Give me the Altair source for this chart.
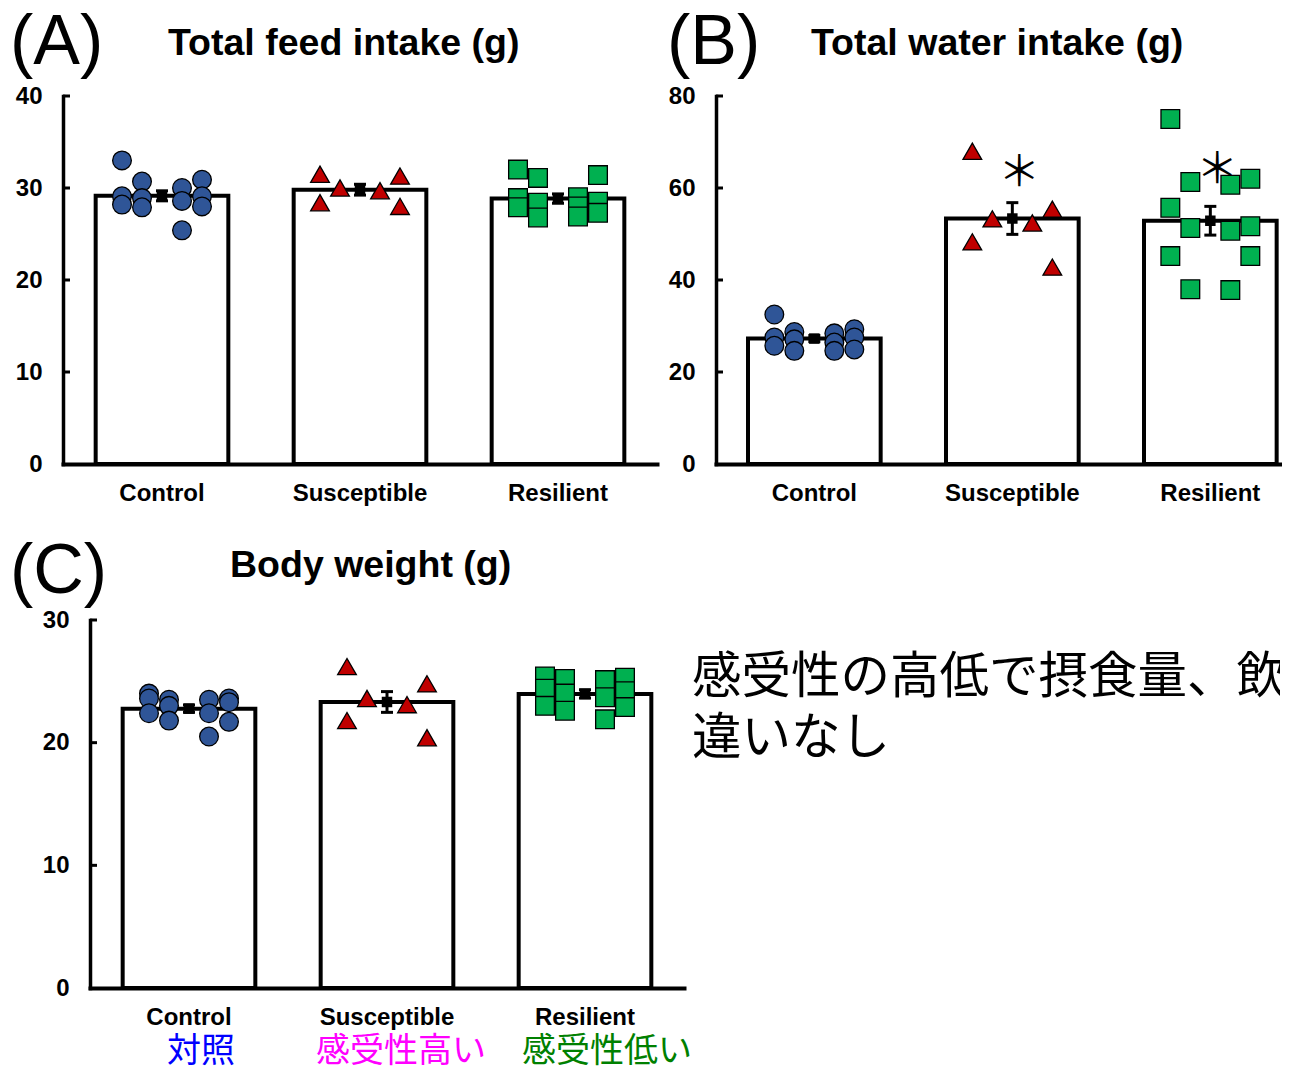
import altair as alt
import pandas as pd

groups = ["Control", "Susceptible", "Resilient"]
jp_labels = ["対照", "感受性高い", "感受性低い"]
jp_colors = ["#0000FF", "#FF00FF", "#008000"]
fills = ["#2F5597", "#C00000", "#00B050"]
shapes = ["circle", "triangle-up", "square"]

# beeswarm column of each animal (-2, -1 left of the mean, 1, 2 right of it)
cols_12 = [-2, -2, -2, -1, -1, -1, 1, 1, 1, 2, 2, 2]
cols_6 = [-2, -2, -1, 1, 2, 2]

feed_control = [33.0, 29.1, 28.2, 30.7, 28.9, 27.9, 30.0, 28.6, 25.4, 30.9, 29.1, 28.0]
feed_susceptible = [31.5, 28.4, 30.0, 29.7, 31.3, 28.0]
feed_resilient = [32.0, 28.9, 27.9, 31.1, 28.4, 26.8, 29.0, 28.0, 26.9, 31.4, 28.5, 27.3]

water_control = [32.5, 27.5, 25.7, 28.7, 27.1, 24.6, 28.4, 26.4, 24.6, 29.3, 27.5, 24.9]
water_susceptible = [68.0, 48.3, 53.3, 52.4, 55.4, 42.8]
water_resilient = [75.0, 55.7, 45.2, 61.3, 51.3, 38.0, 60.7, 50.7, 37.8, 62.0, 51.7, 45.2]

bw_control = [24.0, 23.6, 22.4, 23.5, 23.0, 21.8, 23.5, 22.4, 20.5, 23.6, 23.3, 21.7]
bw_susceptible = [26.2, 21.8, 23.6, 23.1, 24.8, 20.4]
bw_resilient = [25.4, 24.4, 23.0, 25.2, 24.0, 22.6, 25.1, 23.7, 21.9, 25.3, 24.2, 22.9]

star_groups = ["Susceptible", "Resilient"]
star_level = [63.3, 64.0]

note_lines = ["感受性の高低で摂食量、飲水量、体重に", "違いなし"]

LATIN = "Liberation Sans"
CJK = "Noto Sans CJK JP"
PH = 368
STEP = 198.0
COL_STEP = 20.0 / STEP
dummy = pd.DataFrame({"k": [0]})
groups_js = "[" + ",".join("'" + g + "'" for g in groups) + "]"


def make_df(ctrl, sus, res):
    rows = []
    for g, vals, cols in zip(groups, [ctrl, sus, res], [cols_12, cols_6, cols_12]):
        for v, c in zip(vals, cols):
            rows.append({"group": g, "value": v, "col": c})
    return pd.DataFrame(rows)


def panel(df, ymax, ystep, letter, title, width, letter_dx, letter_dy,
          title_dx, title_dy, align=0.5, pad_outer=0.165, stars=False, jp=False):
    xs = alt.Scale(type="band", domain=groups, paddingInner=0.33, paddingOuter=pad_outer,
                   align=align, round=False)
    ys = alt.Scale(domain=[0, ymax], nice=False)
    xaxis = alt.Axis(title=None, labelAngle=0, ticks=False, tickSize=0, domainColor="black",
                     domainWidth=4, domainCap="square", labelFont=LATIN, labelFontSize=24,
                     labelFontWeight="bold", labelColor="black", labelPadding=17, grid=False)
    yaxis = alt.Axis(title=None, values=list(range(0, ymax + 1, ystep)), ticks=False, tickSize=0,
                     domainColor="black", domainWidth=3.5, domainCap="square", labelFont=LATIN,
                     labelFontSize=24, labelFontWeight="bold", labelColor="black",
                     labelPadding=21, grid=False)
    X = alt.X("group:N", scale=xs, sort=groups, axis=xaxis)
    Xn = alt.X("group:N", scale=xs, sort=groups, axis=None)
    # left edge of first band is at 0.5 step before its centre
    x0 = -((width - STEP * 2.67) * align + STEP * 0.67 / 2) / STEP
    xdom = [x0, x0 + width / STEP]

    def Y(f):
        return alt.Y(f, scale=ys, axis=yaxis)

    base = alt.Chart(df)
    bars = base.mark_bar(fill="white", stroke="black", strokeWidth=4).encode(
        x=X, y=Y("mean(value):Q"))
    tick_df = pd.DataFrame({"t": list(range(ystep, ymax + 1, ystep))})
    ticks = alt.Chart(tick_df).mark_rule(color="black", strokeWidth=3).encode(
        x=alt.value(0), x2=alt.value(7), y=Y("t:Q"))
    pts = base.transform_calculate(
        xpos="indexof(" + groups_js + ", datum.group) + datum.col * " + repr(COL_STEP)
    ).mark_point(filled=True, stroke="black", strokeWidth=1.3, opacity=1, size=350).encode(
        x=alt.X("xpos:Q", scale=alt.Scale(domain=xdom, nice=False, zero=False), axis=None),
        y=Y("value:Q"),
        fill=alt.Fill("group:N", scale=alt.Scale(domain=groups, range=fills), legend=None),
        shape=alt.Shape("group:N", scale=alt.Scale(domain=groups, range=shapes), legend=None),
    )
    agg = base.transform_aggregate(
        m="mean(value)", s="stderr(value)", groupby=["group"]
    ).transform_calculate(lo="datum.m - datum.s", hi="datum.m + datum.s")
    err = agg.mark_rule(color="black", strokeWidth=3).encode(x=Xn, y=Y("lo:Q"), y2="hi:Q")
    caps = agg.transform_fold(["lo", "hi"], as_=["kk", "vv"]).mark_tick(
        color="black", size=12, thickness=3, opacity=1).encode(x=Xn, y=Y("vv:Q"))
    mean_pt = agg.mark_square(color="black", size=110, opacity=1).encode(x=Xn, y=Y("m:Q"))
    lt = alt.Chart(dummy).mark_text(text=letter, font=LATIN, fontSize=70, align="left",
                                    baseline="alphabetic", color="black").encode(
        x=alt.value(letter_dx), y=alt.value(letter_dy))
    tt = alt.Chart(dummy).mark_text(text=title, font=LATIN, fontSize=37.5, fontWeight="bold",
                                    align="left", baseline="alphabetic", color="black").encode(
        x=alt.value(title_dx), y=alt.value(title_dy))
    layers = [bars, ticks, pts, err, caps, mean_pt, lt, tt]
    if stars:
        sdf = pd.DataFrame({"group": star_groups, "y": star_level})
        layers.append(alt.Chart(sdf).mark_text(text="＊", font=CJK, fontSize=42, dx=7,
                                               baseline="middle", color="black").encode(
            x=Xn, y=Y("y:Q")))
    if jp:
        jp_dx = [12, 14, 22]
        for i in range(3):
            jdf = pd.DataFrame({"group": [groups[i]], "label": [jp_labels[i]]})
            layers.append(alt.Chart(jdf).mark_text(font=CJK, fontSize=34, color=jp_colors[i],
                                                   dx=jp_dx[i], baseline="alphabetic",
                                                   align="center").encode(
                x=Xn, y=alt.value(PH + 74), text="label:N"))
    return alt.layer(*layers).resolve_scale(x="independent").properties(width=width, height=PH)


A = panel(make_df(feed_control, feed_susceptible, feed_resilient), 40, 10, "(A)",
          "Total feed intake (g)", 594, -53, -32, 105, -41)
B = panel(make_df(water_control, water_susceptible, water_resilient), 80, 20, "(B)",
          "Total water intake (g)", 566, -49, -32, 95, -41, align=0.857, pad_outer=0.0943,
          stars=True)
C = panel(make_df(bw_control, bw_susceptible, bw_resilient), 30, 10, "(C)",
          "Body weight (g)", 594, -80, -27, 140, -43, jp=True)

spacer = alt.Chart(dummy).mark_text(text=" ").encode(
    x=alt.value(0), y=alt.value(0)).properties(width=19, height=PH)

note = alt.Chart(dummy).mark_text(text=note_lines, font=CJK, fontSize=49.5, lineHeight=61,
                                  align="left", baseline="alphabetic", clip=True,
                                  color="black").encode(
    x=alt.value(0), y=alt.value(73)).properties(width=588, height=PH)

row1 = alt.hconcat(A, B, spacing=59, bounds="flush")
row2 = alt.hconcat(spacer, C, note, spacing=8, bounds="flush")

chart = alt.vconcat(row1, row2, spacing=524, bounds="flush").properties(
    padding={"left": 2, "top": 0, "right": 0, "bottom": 0}
).configure_view(stroke=None)

chart.save("out.html", embed_options={"renderer": "svg", "actions": False})
